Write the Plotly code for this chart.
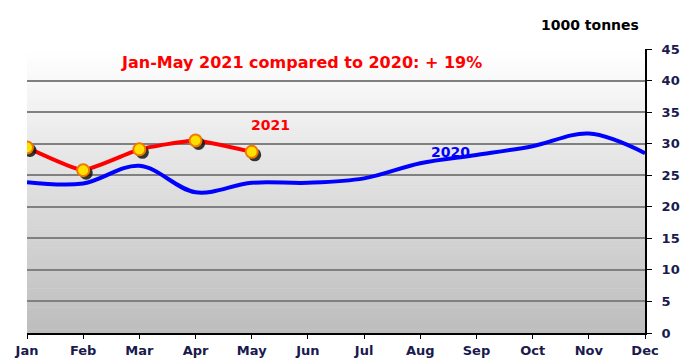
import plotly.graph_objects as go

months = ["Jan", "Feb", "Mar", "Apr", "May", "Jun", "Jul", "Aug", "Sep", "Oct", "Nov", "Dec"]
values_2020 = [23.9, 23.7, 26.5, 22.3, 23.8, 23.8, 24.5, 26.9, 28.2, 29.6, 31.6, 28.5]
values_2021 = [29.4, 25.8, 29.1, 30.5, 28.7]
y_ticks = [0, 5, 10, 15, 20, 25, 30, 35, 40, 45]

x_all = list(range(len(months)))
x_2021 = x_all[:len(values_2021)]
font_family = "DejaVu Sans, Verdana, sans-serif"
tick_color = "#1a1a4d"

W, H = 696, 364
M_L, M_R, M_T, M_B = 27, 51, 49, 31
X_RANGE = [0, 11]
Y_RANGE = [0, 45]

# offset (in pixels) of the drop shadow under the 2021 markers
shadow_dx, shadow_dy = 3, 3
plot_w = W - M_L - M_R
plot_h = H - M_T - M_B
sx = shadow_dx * (X_RANGE[1] - X_RANGE[0]) / plot_w
sy = shadow_dy * (Y_RANGE[1] - Y_RANGE[0]) / plot_h

fig = go.Figure()

fig.add_trace(go.Scatter(
    x=x_all, y=values_2020, mode="lines",
    line=dict(color="#0000ff", width=4, shape="spline", smoothing=1.0),
    name="2020", showlegend=False,
))

fig.add_trace(go.Scatter(
    x=x_2021, y=values_2021, mode="lines",
    line=dict(color="#ff0000", width=4, shape="spline", smoothing=0.4),
    name="2021", showlegend=False,
))

# marker shadows drawn on a slightly shifted overlay axis pair
fig.add_trace(go.Scatter(
    x=x_2021, y=values_2021, mode="markers",
    marker=dict(size=13, color="rgba(20,20,20,0.85)"),
    xaxis="x2", yaxis="y2", showlegend=False, hoverinfo="skip",
))
fig.add_trace(go.Scatter(
    x=x_2021, y=values_2021, mode="markers",
    marker=dict(size=12, color="#ffe000", line=dict(color="#f07800", width=2)),
    xaxis="x3", yaxis="y3", name="2021", showlegend=False,
))

# white-to-grey vertical gradient behind the gridlines
steps = 90
for i in range(steps):
    t = i / (steps - 1)
    g = int(round(0xbd + (0xff - 0xbd) * t))
    fig.add_shape(
        type="rect", xref="paper", yref="paper",
        x0=0, x1=1, y0=i / steps, y1=(i + 1) / steps + 0.002,
        fillcolor=f"rgb({g},{g},{g})", line=dict(width=0), layer="below",
    )

fig.add_annotation(x=4.88, y=42.8, text="<b>Jan-May 2021 compared to 2020: + 19%</b>",
                   showarrow=False, font=dict(family=font_family, size=16, color="#ff0000"))
fig.add_annotation(x=4.34, y=33.0, text="<b>2021</b>", showarrow=False,
                   font=dict(family=font_family, size=14, color="#ff0000"))
fig.add_annotation(x=7.54, y=28.7, text="<b>2020</b>", showarrow=False,
                   font=dict(family=font_family, size=14, color="#0000ff"))
fig.add_annotation(x=1.0, xref="paper", xanchor="right", xshift=-4,
                   y=1.0, yref="paper", yshift=34,
                   text="<b>1000 tonnes</b>", showarrow=False,
                   font=dict(family=font_family, size=14, color="#000000"))

fig.update_xaxes(
    range=X_RANGE, tickvals=x_all, ticktext=[f"<b>{m}</b>" for m in months],
    showline=True, linecolor="#000000", linewidth=2,
    ticks="outside", ticklen=4, tickcolor="#000000",
    showgrid=False, zeroline=False, automargin=False,
    tickfont=dict(family=font_family, size=13, color=tick_color),
)
fig.update_yaxes(
    range=Y_RANGE, tickvals=y_ticks, ticktext=[f"<b>{v}</b>" for v in y_ticks],
    side="right",
    showline=True, linecolor="#000000", linewidth=2,
    ticks="outside", ticklen=5, tickcolor="#000000", ticklabelstandoff=7,
    showgrid=True, gridcolor="#808080", gridwidth=2,
    zeroline=False, automargin=False,
    tickfont=dict(family=font_family, size=13, color=tick_color),
)

hidden = dict(visible=False, showgrid=False, zeroline=False)
fig.update_layout(
    width=W, height=H,
    margin=dict(l=M_L, r=M_R, t=M_T, b=M_B, autoexpand=False),
    paper_bgcolor="#ffffff", plot_bgcolor="#ffffff",
    showlegend=False,
    xaxis2=dict(overlaying="x", range=[X_RANGE[0] - sx, X_RANGE[1] - sx], **hidden),
    yaxis2=dict(overlaying="y", range=[Y_RANGE[0] + sy, Y_RANGE[1] + sy], **hidden),
    xaxis3=dict(overlaying="x", range=X_RANGE, **hidden),
    yaxis3=dict(overlaying="y", range=Y_RANGE, **hidden),
)

fig.write_html("out.html")
